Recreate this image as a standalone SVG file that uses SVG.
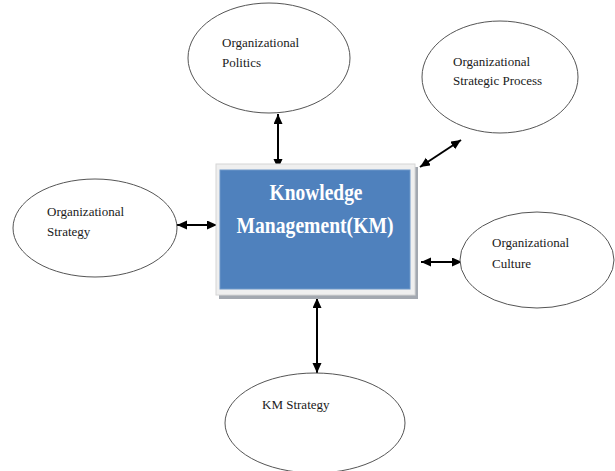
<svg xmlns="http://www.w3.org/2000/svg" width="615" height="471" viewBox="0 0 615 471">
  <style>
    .bubble { fill: #ffffff; stroke: #555555; stroke-width: 1; }
    .lbl { font-family: "Liberation Serif", "Times New Roman", serif; font-size: 13px; fill: #1a1a1a; }
    .core { font-family: "Liberation Serif", "Times New Roman", serif; font-size: 23px; font-weight: bold; fill: #ffffff; }
    .link { stroke: #000000; stroke-width: 2; fill: none; marker-start: url(#head); marker-end: url(#head); }
  </style>
  <defs>
    <marker id="head" markerUnits="userSpaceOnUse" markerWidth="11" markerHeight="10" refX="10" refY="4.5" orient="auto-start-reverse">
      <path d="M0,0 L10,4.5 L0,9 z" fill="#000000"/>
    </marker>
  </defs>

  <rect width="615" height="471" fill="#ffffff"/>

  <!-- connectors -->
  <g id="connectors">
    <line class="link" x1="278" y1="114" x2="278" y2="169"/>
    <line class="link" x1="420" y1="167" x2="461" y2="140"/>
    <line class="link" x1="177" y1="225" x2="217" y2="225"/>
    <line class="link" x1="421" y1="262" x2="462" y2="262"/>
    <line class="link" x1="317" y1="298" x2="317" y2="373"/>
  </g>

  <!-- central node -->
  <g id="km">
    <rect x="219" y="167" width="199" height="132" fill="#a3a8b0"/>
    <rect x="216" y="164" width="199" height="131" fill="#efefef" stroke="#d6d6d6" stroke-width="1"/>
    <rect x="220" y="170" width="190" height="119" fill="#4f81bd" stroke="#6f98c9" stroke-width="1"/>
    <text class="core" x="316" y="200" text-anchor="middle" textLength="93" lengthAdjust="spacingAndGlyphs">Knowledge</text>
    <text class="core" x="315" y="233" text-anchor="middle" textLength="157" lengthAdjust="spacingAndGlyphs">Management(KM)</text>
  </g>

  <g id="politics">
    <ellipse class="bubble" cx="269" cy="58" rx="81" ry="55"/>
    <text class="lbl" x="222" y="47">Organizational</text>
    <text class="lbl" x="222" y="67">Politics</text>
  </g>

  <g id="strategic-process">
    <ellipse class="bubble" cx="500" cy="77" rx="78" ry="56"/>
    <text class="lbl" x="453" y="66">Organizational</text>
    <text class="lbl" x="453" y="85">Strategic Process</text>
  </g>

  <g id="strategy">
    <ellipse class="bubble" cx="95" cy="228" rx="82" ry="49"/>
    <text class="lbl" x="47" y="216">Organizational</text>
    <text class="lbl" x="47" y="236">Strategy</text>
  </g>

  <g id="culture">
    <ellipse class="bubble" cx="537" cy="260" rx="77" ry="48"/>
    <text class="lbl" x="492" y="247">Organizational</text>
    <text class="lbl" x="492" y="268">Culture</text>
  </g>

  <g id="km-strategy">
    <ellipse class="bubble" cx="315" cy="423" rx="90" ry="50"/>
    <text class="lbl" x="262" y="409">KM Strategy</text>
  </g>
</svg>
